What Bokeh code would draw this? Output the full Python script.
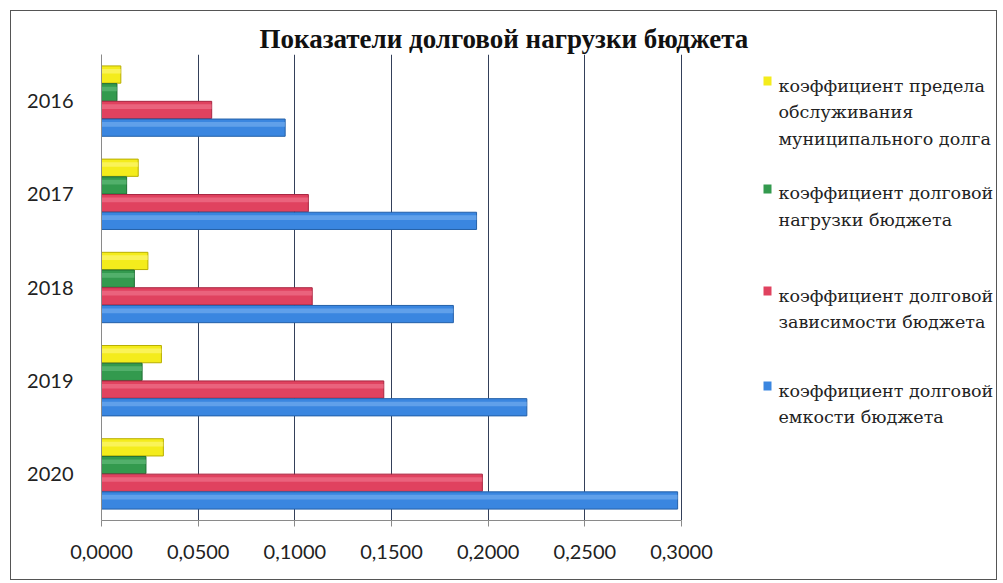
from bokeh.plotting import figure
from bokeh.models import (FactorRange, FixedTicker, CustomJSTickFormatter, BoxAnnotation,
                          ColumnDataSource, Range1d)
from bokeh.transform import dodge
from bokeh.core.properties import value
from bokeh.embed import file_html
from bokeh.resources import INLINE

title_text = "Показатели долговой нагрузки бюджета"
years = ["2016", "2017", "2018", "2019", "2020"]
legend_lines = [
    ["коэффициент предела", "обслуживания", "муниципального долга"],
    ["коэффициент долговой", "нагрузки бюджета"],
    ["коэффициент долговой", "зависимости бюджета"],
    ["коэффициент долговой", "емкости бюджета"],
]
predel = [0.010, 0.019, 0.024, 0.031, 0.032]
nagruzka = [0.008, 0.013, 0.017, 0.021, 0.023]
zavisimost = [0.057, 0.107, 0.109, 0.146, 0.197]
emkost = [0.095, 0.194, 0.182, 0.220, 0.298]
x_ticks = [0.0, 0.05, 0.10, 0.15, 0.20, 0.25, 0.30]

colors = ["#f4ec1c", "#339a4e", "#e0425f", "#3a86e0"]
dark = ["#b8ae00", "#1f6e33", "#a82540", "#2460a8"]
light = ["#fffa8a", "#6cc283", "#f27f96", "#7fb6f2"]
offsets = [0.285, 0.095, -0.095, -0.285]

src = ColumnDataSource(dict(year=years, s0=predel, s1=nagruzka, s2=zavisimost, s3=emkost))

SERIF = "'Liberation Serif'"

OX, OY = 10, 10
W, H = 987, 570
FL, FR, FT, FB = 90, 985, 43, 509
X3_PIX = 670
x_end = 0.30 * (FR - FL) / (X3_PIX - FL)

p = figure(width=W, height=H, output_backend="svg", toolbar_location=None,
           y_range=FactorRange(factors=years[::-1], range_padding=0),
           x_range=Range1d(0, x_end),
           min_border_left=FL, min_border_right=W - FR, min_border_top=FT, min_border_bottom=H - FB,
           title=title_text, background_fill_color="white", border_fill_color="white",
           margin=(OY, 0, 0, OX),
           styles={"border": "1.5px solid #555555", "box-sizing": "border-box"})
p.outline_line_color = None

p.title.text_font = SERIF
p.title.text_font_style = "bold"
p.title.text_font_size = "27px"
p.title.text_color = "#111111"
p.title.align = "left"
p.title.offset = 158
p.title.standoff = 2

for i in range(4):
    p.hbar(y=dodge("year", offsets[i], range=p.y_range), right="s%d" % i, left=0, height=0.185, source=src,
           fill_color=colors[i], line_color=dark[i], line_width=1)
    p.hbar(y=dodge("year", offsets[i] + 0.035, range=p.y_range), right="s%d" % i, left=0,
           height=0.05, source=src, fill_color=light[i], fill_alpha=0.55, line_color=None)

p.ygrid.grid_line_color = None
p.xgrid.grid_line_color = "#34405a"
p.xgrid.grid_line_width = 1
p.xaxis.ticker = FixedTicker(ticks=x_ticks)
p.xaxis.bounds = (0, 0.30)
p.xaxis.formatter = CustomJSTickFormatter(code="return tick.toFixed(4).replace('.', ',');")
for ax in (p.xaxis[0], p.yaxis[0]):
    ax.axis_line_color = "#8a8a8a"
    ax.major_label_text_font = "Lato"
    ax.major_label_text_font_size = "20px"
    ax.major_label_text_color = "#222222"
    ax.minor_tick_line_color = None
p.xaxis.major_tick_line_color = "#8a8a8a"
p.xaxis.major_tick_in = 0
p.xaxis.major_tick_out = 6
p.xaxis.major_label_standoff = 18
p.yaxis.major_tick_line_color = None
p.yaxis.major_label_standoff = 22

PX_PER_UNIT = (X3_PIX - FL) / 0.30
BAND_PX = (FB - FT) / len(years)


def dx(cx):
    return (cx - OX - FL) / PX_PER_UNIT


def dy(cy):
    return ((FB + OY) - cy) / BAND_PX


def sx(cx):
    return cx - OX - FL


def sy(cy):
    return (FB + OY) - cy


starts = [84, 192, 294, 389]
lx, ly, lt = [], [], []
for i in range(4):
    for j, line in enumerate(legend_lines[i]):
        lx.append(dx(777))
        ly.append(dy(starts[i] + 26.5 * j))
        lt.append(line)
    p.add_layout(BoxAnnotation(left=sx(762), right=sx(770), top=sy(starts[i] - 9), bottom=sy(starts[i]),
                               left_units="screen", right_units="screen", top_units="screen", bottom_units="screen",
                               fill_color=colors[i], fill_alpha=1, line_color=None))
p.text(x=lx, y=ly, text=lt, text_align="left", text_baseline="middle",
       text_font=value("DejaVu Serif"), text_font_style="normal",
       text_font_size="17.5px", text_color="#222222")

open("out.html", "w").write(file_html(p, INLINE))
